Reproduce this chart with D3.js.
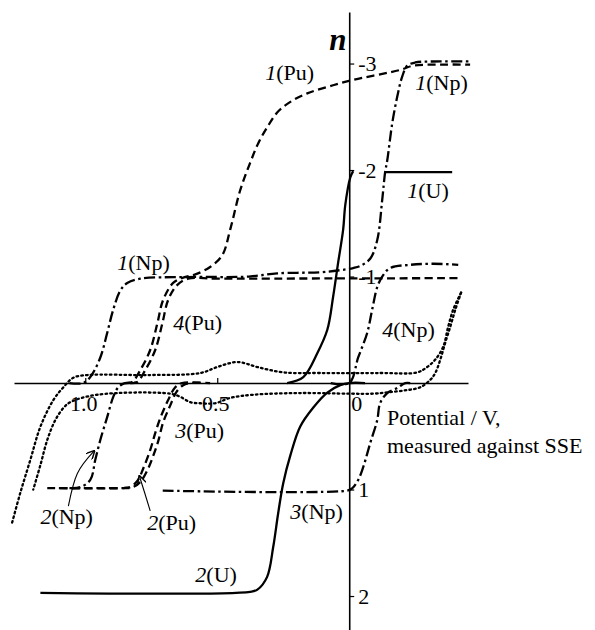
<!DOCTYPE html>
<html>
<head>
<meta charset="utf-8">
<script src="https://cdn.jsdelivr.net/npm/d3@7"></script>
<style>
body { margin: 0; background: #fff; }
text { font-family: "Liberation Serif", "DejaVu Serif", serif; fill: #000; }
</style>
</head>
<body>
<div id="viz"></div>
<script>
const w = 595;
const h = 630;

// [potential / V, n]
const u1Rise = [[0.235,0],[0.174,0.056],[0.121,0.28],[0.083,0.50],[0.061,0.81],[0.042,1.13],[0.023,1.44],[0.015,1.67],[-0.004,1.93],[-0.015,1.99]];
const u1Plateau = [[-0.136,1.98],[-0.39,1.98]];
const u2 = [[1.17,-1.97],[0.375,-1.96],[0.348,-1.94],[0.311,-1.82],[0.288,-1.54],[0.269,-1.22],[0.25,-0.94],[0.223,-0.68],[0.186,-0.41],[0.136,-0.23],[0.083,-0.09],[0.034,-0.02],[0,0],[-0.06,0]];

const np1 = [[1.06,0],[1.008,0],[0.981,0.056],[0.943,0.24],[0.917,0.47],[0.894,0.69],[0.867,0.87],[0.841,0.94],[0.792,0.98],[0.614,0.995],[0.38,1.0],[0.273,1.03],[0.11,1.04],[0.034,1.06],[-0.015,1.08],[-0.042,1.10],[-0.080,1.17],[-0.106,1.34],[-0.125,1.72],[-0.136,1.98],[-0.144,2.09],[-0.163,2.44],[-0.182,2.69],[-0.201,2.88],[-0.220,2.98],[-0.25,3.01],[-0.345,3.02],[-0.458,3.02]];
const np2 = [[1.06,-0.986],[1.019,-0.977],[0.981,-0.91],[0.962,-0.72],[0.943,-0.535],[0.917,-0.32],[0.894,-0.13],[0.875,-0.04],[0.85,0],[0.80,0]];
const np3 = [[-0.231,0],[-0.212,0],[-0.182,-0.047],[-0.144,-0.094],[-0.117,-0.19],[-0.106,-0.35],[-0.080,-0.56],[-0.053,-0.79],[-0.034,-0.91],[-0.011,-0.99],[0.008,-1.01],[0.716,-1.01]];
const np4 = [[0.07,0],[0,0],[-0.034,0.24],[-0.068,0.47],[-0.087,0.69],[-0.106,0.90],[-0.125,1.0],[-0.155,1.08],[-0.231,1.11],[-0.318,1.12],[-0.413,1.11]];

const pu1 = [[0.85,0],[0.822,0.01],[0.792,0.12],[0.754,0.31],[0.727,0.56],[0.705,0.78],[0.667,0.94],[0.629,0.99],[0.583,1.02],[0.527,1.09],[0.481,1.20],[0.451,1.44],[0.413,1.81],[0.375,2.07],[0.345,2.25],[0.311,2.40],[0.273,2.54],[0.223,2.64],[0.159,2.72],[0.083,2.78],[-0.004,2.84],[-0.193,2.94],[-0.242,2.98],[-0.345,2.99],[-0.458,2.99]];
const pu2 = [[1.144,-0.986],[0.856,-0.986],[0.830,-0.977],[0.803,-0.92],[0.780,-0.80],[0.754,-0.63],[0.735,-0.47],[0.716,-0.33],[0.686,-0.16],[0.659,-0.04],[0.633,0],[0.56,0]];
const pu3 = [[1.10,-0.986],[0.856,-0.986],[0.822,-0.98],[0.792,-0.93],[0.765,-0.82],[0.742,-0.68],[0.723,-0.54],[0.705,-0.37],[0.678,-0.21],[0.655,-0.085],[0.629,-0.02],[0.602,0],[0.527,0]];
const pu4 = [[0.83,0],[0.803,0.01],[0.773,0.12],[0.735,0.31],[0.708,0.56],[0.686,0.78],[0.652,0.92],[0.610,0.98],[0.5,0.98],[-0.413,0.985]];

const dotUpper = [[1.277,-1.31],[1.246,-1.03],[1.208,-0.72],[1.170,-0.41],[1.121,-0.16],[1.083,-0.04],[1.045,0.05],[0.992,0.075],[0.754,0.075],[0.564,0.094],[0.5,0.15],[0.424,0.197],[0.348,0.15],[0.25,0.10],[0.11,0.094],[-0.117,0.094],[-0.258,0.10],[-0.295,0.15],[-0.326,0.22],[-0.356,0.34],[-0.375,0.53],[-0.394,0.69],[-0.424,0.85]];
const dotLower = [[-0.424,0.85],[-0.402,0.69],[-0.383,0.53],[-0.364,0.38],[-0.345,0.22],[-0.326,0.094],[-0.307,0.03],[-0.269,-0.04],[-0.220,-0.066],[-0.155,-0.085],[-0.091,-0.10],[0,-0.10],[0.186,-0.094],[0.364,-0.11],[0.451,-0.14],[0.508,-0.19],[0.564,-0.19],[0.602,-0.18],[0.640,-0.13],[0.678,-0.10],[0.955,-0.11],[1.057,-0.18],[1.083,-0.235],[1.114,-0.35],[1.144,-0.535],[1.170,-0.77],[1.197,-1.0]];

// axis ticks
const xTicks = [1.0, 0.5, 0];
const xTickLabels = ['1.0', '0.5', '0'];
const yTicks = [3, 2, 1, -1, -2];
const yTickLabels = ['-3', '-2', '-1', '1', '2'];

// curve labels: [number, species, potential, n]
const labels = [
    ['1', '(Pu)', 0.318, 2.845],
    ['1', '(Np)', -0.25, 2.75],
    ['1', '(U)', -0.22, 1.737],
    ['1', '(Np)', 0.879, 1.061],
    ['4', '(Pu)', 0.667, 0.498],
    ['4', '(Np)', -0.125, 0.432],
    ['3', '(Pu)', 0.659, -0.516],
    ['2', '(Np)', 1.170, -1.324],
    ['2', '(Pu)', 0.765, -1.380],
    ['3', '(Np)', 0.223, -1.277],
    ['2', '(U)', 0.583, -1.869]
];
// pointer arrows from label to curve
const arrowNp = [[1.064,-1.155],[1.03,-0.85],[0.966,-0.638]];
const arrowPu = [[0.754,-1.20],[0.775,-1.03],[0.795,-0.873]];

const viz = d3.select('#viz')
const svg = viz.append('svg')
    .attr('width', w)
    .attr('height', h)

const x = d3.scaleLinear().domain([1.27, -0.45]).range([14, 468]);
const y = d3.scaleLinear().domain([-2.319, 3.484]).range([630, 12]);

const line = d3.line()
    .x(d => x(d[0]))
    .y(d => y(d[1]))
    .curve(d3.curveCatmullRom.alpha(0.5));

const solid = null;
const dashed = '8,4.5';
const dashDot = '11,3.5,2.5,3.5';
const dotted = '1.6,3.2';

const curves = [
    [u1Rise, solid], [u1Plateau, solid], [u2, solid],
    [np1, dashDot], [np2, dashDot], [np3, dashDot], [np4, dashDot],
    [pu1, dashed], [pu2, dashed], [pu3, dashed], [pu4, dashed],
    [dotUpper, dotted], [dotLower, dotted]
];

// axes
let xAxis = svg.append('g')
    .attr('transform', `translate(0,${y(0)})`)
    .call(d3.axisBottom(x).tickValues(xTicks).tickSize(-5).tickSizeOuter(0).tickPadding(12)
        .tickFormat((d, i) => xTickLabels[i]));
xAxis.select('.domain').attr('stroke-width', 1.6);
xAxis.selectAll('.tick line').attr('stroke-width', 1.2);
xAxis.selectAll('.tick text')
    .attr('font-size', 22)
    .attr('font-family', '"Liberation Serif", serif')
    .attr('fill', '#000')
    .attr('stroke', '#fff').attr('stroke-width', 4).attr('paint-order', 'stroke')
    .attr('dx', (d, i) => d === 0 ? 7 : -2);

let yAxis = svg.append('g')
    .attr('transform', `translate(${x(0)},0)`)
    .call(d3.axisRight(y).tickValues(yTicks).tickSize(5).tickSizeOuter(0).tickPadding(4)
        .tickFormat((d, i) => yTickLabels[i]));
yAxis.select('.domain').attr('stroke-width', 1.6);
yAxis.selectAll('.tick line').attr('stroke-width', 1.2);
yAxis.selectAll('.tick text')
    .attr('font-size', 22)
    .attr('font-family', '"Liberation Serif", serif')
    .attr('fill', '#000');

svg.append('text')
    .attr('x', x(0) - 20).attr('y', 50)
    .attr('font-size', 31)
    .attr('font-style', 'italic')
    .attr('font-weight', 'bold')
    .text('n');

// curves
let curveGroup = svg.append('g')
    .attr('fill', 'none')
    .attr('stroke', '#000')
    .attr('stroke-width', 2.3)

curveGroup.selectAll('path')
    .data(curves)
    .join('path')
    .attr('d', d => line(d[0]))
    .attr('stroke-dasharray', d => d[1])
    .attr('stroke-linecap', d => d[1] === dotted ? 'round' : 'butt');

// label pointers
svg.append('defs').append('marker')
    .attr('id', 'head')
    .attr('viewBox', '0 0 10 10')
    .attr('refX', 9).attr('refY', 5)
    .attr('markerWidth', 9).attr('markerHeight', 9)
    .attr('markerUnits', 'userSpaceOnUse')
    .attr('orient', 'auto')
    .append('path')
    .attr('d', 'M0,0L10,5L0,10')
    .attr('fill', 'none')
    .attr('stroke', '#000')
    .attr('stroke-width', 1.6);

const arrowLine = d3.line().x(d => x(d[0])).y(d => y(d[1])).curve(d3.curveNatural);
svg.selectAll('.pointer')
    .data([arrowNp, arrowPu])
    .join('path')
    .attr('class', 'pointer')
    .attr('d', d => arrowLine(d))
    .attr('fill', 'none')
    .attr('stroke', '#000')
    .attr('stroke-width', 1.1)
    .attr('marker-end', 'url(#head)');

// curve labels
let labelText = svg.selectAll('.lbl')
    .data(labels)
    .join('text')
    .attr('class', 'lbl')
    .attr('x', d => x(d[2]))
    .attr('y', d => y(d[3]))
    .attr('font-size', 22);
labelText.append('tspan').attr('font-style', 'italic').text(d => d[0]);
labelText.append('tspan').text(d => d[1]);

// axis title
let title = svg.append('text')
    .attr('x', 387).attr('y', 425)
    .attr('font-size', 22);
title.append('tspan').attr('x', 387).text('Potential / V,');
title.append('tspan').attr('x', 387).attr('dy', 28).text('measured against SSE');
</script>
</body>
</html>
